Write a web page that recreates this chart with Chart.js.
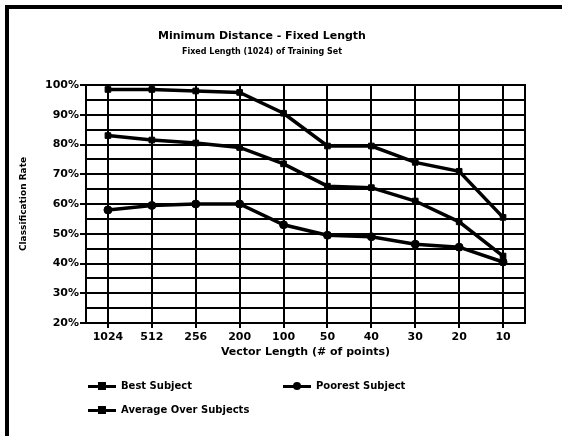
<!DOCTYPE html>
<html>
<head>
<meta charset="utf-8">
<script src="https://cdn.jsdelivr.net/npm/chart.js@4"></script>
<style>
  html, body { margin: 0; padding: 0; background: #fff; }
  body { width: 562px; height: 436px; position: relative; overflow: hidden;
         font-family: "DejaVu Sans", sans-serif; font-weight: bold; color: #000; }
  #frame { position: absolute; left: 5px; top: 5px; width: 557px; height: 431px;
           border-top: 4px solid #000; border-left: 4px solid #000; box-sizing: border-box; }
  #wrap { position: absolute; left: 0; top: 0; width: 562px; height: 436px; }
  .ttl { position: absolute; left: 0; width: 524px; text-align: center; white-space: nowrap; }
  #t1 { top: 29px; font-size: 11px; line-height: 14px; }
  #t2 { top: 47px; font-size: 8px; line-height: 10px; }
  .lg { position: absolute; height: 14px; font-size: 10px; line-height: 14px; white-space: nowrap; }
  .lg .ln { position: absolute; left: 0; top: 5.5px; width: 28px; height: 3px; background: #000; }
  .lg .mk { position: absolute; left: 10px; top: 3px; width: 8px; height: 8px; background: #000; }
  .lg .mk.circle { border-radius: 50%; }
  .lg .tx { position: absolute; left: 33px; top: 0; }
</style>
</head>
<body>
<div id="wrap"><canvas id="c" width="562" height="436"></canvas></div>
<div id="frame"></div>
<div class="ttl" id="t1">Minimum Distance - Fixed Length</div>
<div class="ttl" id="t2">Fixed Length (1024) of Training Set</div>
<div id="legend"></div>
<script>
// Vector lengths (number of points) along the x axis
const categories = ['1024', '512', '256', '200', '100', '50', '40', '30', '20', '10'];

// Classification rate (%) per series
const bestSubject    = [98.5, 98.5, 98, 97.5, 90.5, 79.5, 79.5, 74, 71, 55.5];
const poorestSubject = [58, 59.5, 60, 60, 53, 49.5, 49, 46.5, 45.5, 40.5];
const averageOver    = [83, 81.5, 80.5, 79, 73.5, 66, 65.5, 61, 54, 42.5];

const seriesNames = ['Best Subject', 'Poorest Subject', 'Average Over Subjects'];

// Axis range and tick step for the classification rate
const yMin = 20;
const yMax = 100;
const yStep = 5;
const yLabelEvery = 10;

const FONT = '"DejaVu Sans", sans-serif';

function series(label, data, pointStyle) {
  return {
    label, data,
    borderColor: '#000',
    backgroundColor: '#000',
    borderWidth: 3.5,
    pointStyle,
    pointRadius: 4,
    pointBorderWidth: 1,
    pointBackgroundColor: '#000',
    pointBorderColor: '#000',
    tension: 0
  };
}

const datasets = [
  series(seriesNames[0], bestSubject, 'rect'),
  series(seriesNames[1], poorestSubject, 'circle'),
  series(seriesNames[2], averageOver, 'rect')
];

// Closes the plot frame on its right side
const rightEdge = {
  id: 'rightEdge',
  beforeDatasetsDraw(chart) {
    const { ctx, chartArea: a } = chart;
    ctx.save();
    ctx.strokeStyle = '#000';
    ctx.lineWidth = 2;
    ctx.beginPath();
    ctx.moveTo(a.right, a.top - 1);
    ctx.lineTo(a.right, a.bottom + 1);
    ctx.stroke();
    ctx.restore();
  }
};

new Chart(document.getElementById('c'), {
  type: 'line',
  data: { labels: categories, datasets },
  plugins: [rightEdge],
  options: {
    responsive: false,
    animation: false,
    devicePixelRatio: 1,
    layout: { padding: { top: 85, right: 37, bottom: 76, left: 0 } },
    plugins: {
      legend: { display: false },
      title: { display: false },
      tooltip: { enabled: false }
    },
    scales: {
      x: {
        type: 'category',
        offset: true,
        afterFit(scale) { scale.height = 37; },
        grid: {
          color: '#000', lineWidth: 2, offset: false,
          drawTicks: true, tickLength: 5, tickColor: '#000', tickWidth: 2
        },
        border: { display: true, color: '#000', width: 2 },
        ticks: {
          color: '#000', padding: 3, maxRotation: 0, autoSkip: false,
          font: { family: FONT, size: 11, weight: 'bold' }
        },
        title: {
          display: true, text: 'Vector Length (# of points)', color: '#000',
          padding: { top: 0, bottom: 1 },
          font: { family: FONT, size: 11, weight: 'bold' }
        }
      },
      y: {
        min: yMin, max: yMax,
        afterFit(scale) { scale.width = 86; },
        grid: {
          color: '#000', lineWidth: 2,
          drawTicks: true, tickLength: 6, tickWidth: 2,
          tickColor: (ctx) => (ctx.tick && ctx.tick.value % yLabelEvery === 0) ? '#000' : 'rgba(0,0,0,0)'
        },
        border: { display: true, color: '#000', width: 2 },
        ticks: {
          stepSize: yStep, maxTicksLimit: 40, autoSkip: false, color: '#000', padding: 1,
          font: { family: FONT, size: 11, weight: 'bold' },
          callback: (v) => (v % yLabelEvery === 0 ? v + '%' : '')
        },
        title: {
          display: true, text: 'Classification Rate', color: '#000',
          padding: { top: 18.5, bottom: 18.5 },
          font: { family: FONT, size: 9, weight: 'bold' }
        }
      }
    }
  }
});

// Legend laid out in two columns below the plot
const legendSpots = [
  { left: 88, top: 379, shape: 'square' },
  { left: 283, top: 379, shape: 'circle' },
  { left: 88, top: 403, shape: 'square' }
];
const legendEl = document.getElementById('legend');
datasets.forEach((ds, i) => {
  const s = legendSpots[i];
  const item = document.createElement('div');
  item.className = 'lg';
  item.style.left = s.left + 'px';
  item.style.top = s.top + 'px';
  item.innerHTML = '<div class="ln"></div><div class="mk ' + s.shape + '"></div><div class="tx"></div>';
  item.querySelector('.tx').textContent = ds.label;
  legendEl.appendChild(item);
});
</script>
</body>
</html>
